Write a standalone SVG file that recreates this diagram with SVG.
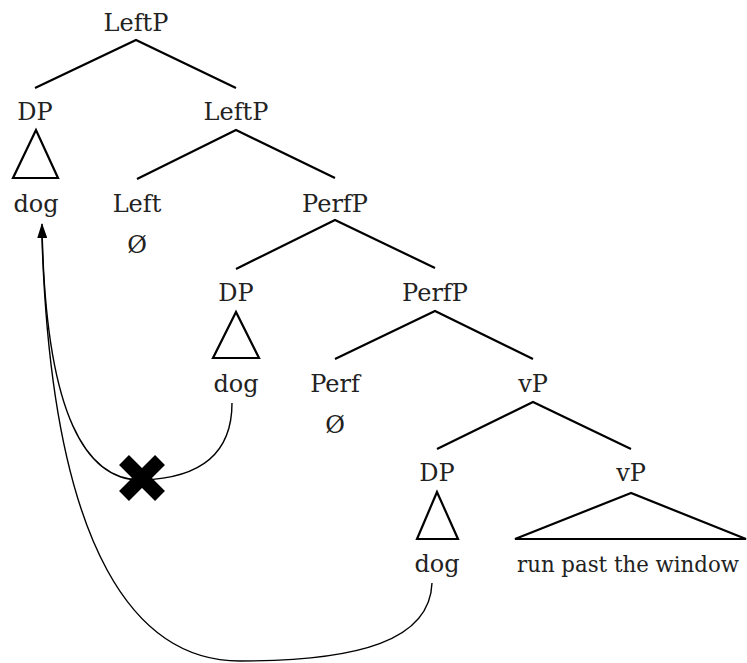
<svg xmlns="http://www.w3.org/2000/svg" width="747" height="663" viewBox="0 0 747 663">
<style>
.br{stroke:#000;stroke-width:2.2;fill:none}
.tri{stroke:#000;stroke-width:2.2;fill:none;stroke-linejoin:miter}
.mv{stroke:#000;stroke-width:1.4;fill:none}
</style>
<defs>
<marker id="ah" markerWidth="15" markerHeight="10" refX="14" refY="5" orient="auto" markerUnits="userSpaceOnUse" viewBox="0 0 15 10">
<path d="M0,0 L15,5 L0,10 Z" fill="#000"/>
</marker>
</defs>
<rect width="747" height="663" fill="#fff"/>
<g id="branches">
<path class="br" d="M35,88 L136,40 L236,88"/>
<path class="br" d="M137,179 L236,130 L335,178"/>
<path class="br" d="M236,269 L335,220 L435,268"/>
<path class="br" d="M335,359 L435,311 L533,359"/>
<path class="br" d="M437,449 L533,402 L631,449"/>
</g>
<g id="nodes" font-family="DejaVu Serif, Noto Serif, serif" font-size="24" fill="#222" text-anchor="middle">
<g id="n-leftp1"><text x="136" y="31">LeftP</text></g>
<g id="n-dp1"><text x="35" y="120">DP</text><path class="tri" d="M36,130 L13,178 L58,178 Z"/></g>
<g id="n-dog1"><text x="36" y="212">dog</text></g>
<g id="n-leftp2"><text x="236" y="120">LeftP</text></g>
<g id="n-left"><text x="137" y="212">Left</text><text x="137" y="253">Ø</text></g>
<g id="n-perfp1"><text x="335" y="212">PerfP</text></g>
<g id="n-dp2"><text x="236" y="301">DP</text><path class="tri" d="M236,312 L213,358 L259,358 Z"/></g>
<g id="n-dog2"><text x="236" y="392">dog</text></g>
<g id="n-perfp2"><text x="435" y="301">PerfP</text></g>
<g id="n-perf"><text x="335" y="392">Perf</text><text x="335" y="433">Ø</text></g>
<g id="n-vp1"><text x="533" y="392">vP</text></g>
<g id="n-dp3"><text x="437" y="481">DP</text><path class="tri" d="M437,492 L417,539 L458,539 Z"/></g>
<g id="n-dog3"><text x="437" y="572">dog</text></g>
<g id="n-vp2"><text x="631" y="481">vP</text><path class="tri" d="M631,493 L515,539 L746,539 Z"/></g>
<g id="n-vp2-text"><text x="628" y="572" font-size="22" textLength="222" lengthAdjust="spacingAndGlyphs">run past the window</text></g>
</g>
<g id="connectors">
<path class="mv" d="M232,403 C232,450 205,478 142,480 C88,481 45,420 42,224" marker-end="url(#ah)"/>
<path class="mv" d="M432,583 C430,640 360,661 240,661 C140,661 52,560 42,238"/>
</g>
<g id="x-mark">
<path d="M124,460 L160,496 M160,460 L124,496" stroke="#000" stroke-width="14" fill="none"/>
</g>
</svg>
